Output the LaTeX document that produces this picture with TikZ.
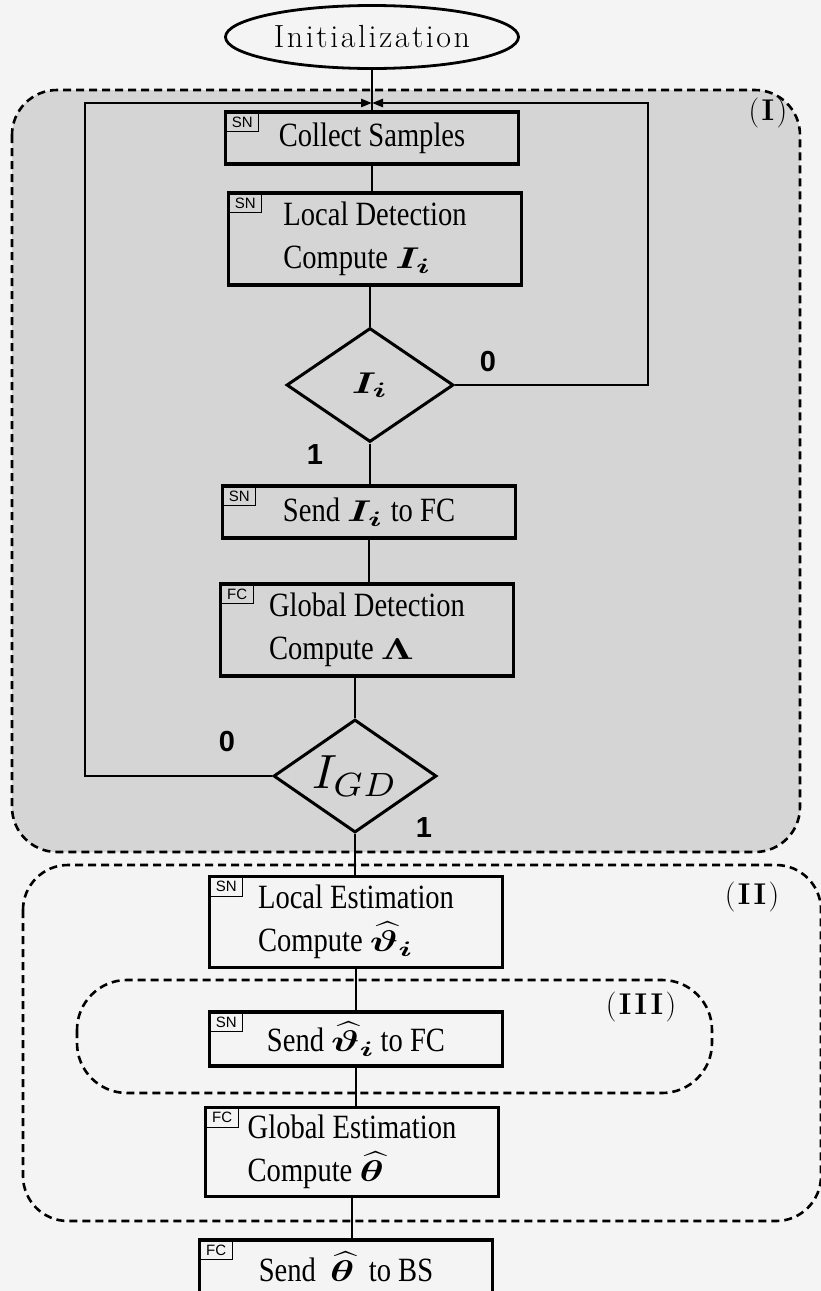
\documentclass[tikz,border=0pt]{standalone}
\usepackage{amsmath,bm}
\usepackage{graphicx}
\usepackage{fontspec}
\usetikzlibrary{shapes.geometric,arrows.meta}
\newfontfamily\tnr{Liberation Serif}[FakeStretch=0.84]
\newfontfamily\lmsp{Latin Modern Roman}[LetterSpace=8]
\newfontfamily\lsans{Liberation Sans}
\definecolor{regI}{HTML}{D5D5D5}
\definecolor{pagebg}{HTML}{F4F4F4}
\newcommand{\mth}[1]{\scalebox{4.1}[3.0]{\fontsize{10}{12}\selectfont$#1$}}
\begin{document}
\begin{tikzpicture}[x=1pt,y=-1pt,
  proc/.style={draw, line width=3.3pt, minimum width=293pt, inner sep=0pt, outer sep=0pt,
    font=\tnr\fontsize{34}{43}\selectfont, align=left},
  tagbox/.style={draw, line width=1.4pt, minimum width=32pt, minimum height=19pt, inner sep=0pt,
    anchor=north west, font=\lsans\fontsize{15}{15}\selectfont},
  dec/.style={draw, diamond, aspect=1.45, line width=3pt, inner sep=0pt,
    font=\tnr\fontsize{34}{40}\selectfont},
  conn/.style={line width=2.6pt},
  region/.style={line width=2.6pt, dash pattern=on 8pt off 5pt, rounded corners=45pt},
  lab/.style={font=\lsans\bfseries\fontsize{29}{30}\selectfont},
  rlab/.style={font=\lmsp\fontsize{30}{32}\selectfont},
  tip/.style={-{Triangle[length=11pt,width=8pt]}}
]
\fill[pagebg] (0,0) rectangle (821,1291);
\useasboundingbox (0,0) rectangle (821,1291);

% regions
\draw[region, fill=regI] (12,90) rectangle (800,852);
\draw[region] (23,865) rectangle (821,1221);
\draw[region, rounded corners=50pt] (77,980) rectangle (712,1093);

% nodes
\node[ellipse, draw, line width=2.8pt, minimum width=293pt, minimum height=63pt, inner sep=0pt,
  font=\lmsp\fontsize{32}{38}\selectfont] (init) at (372,37) {Initialization};
\node[proc, minimum height=52pt] (collect) at (372,138) {Collect Samples};
\node[proc, minimum height=92pt] (localdet) at (375,239) {Local Detection\\Compute \mth{\bm{I}_{\bm{i}}}};
\node[dec, minimum width=167pt, minimum height=114pt] (d1) at (370,385) {\mth{\bm{I}_{\bm{i}}}};
\node[proc, minimum height=52pt] (sendI) at (369,512) {Send \mth{\bm{I}_{\bm{i}}} to FC};
\node[proc, minimum height=92pt] (globdet) at (367,630) {Global Detection\\Compute \mth{\bm{\Lambda}}};
\node[dec, minimum width=163pt, minimum height=113pt] (d2) at (355,776) {\scalebox{4.8}{\fontsize{10}{12}\selectfont$I_{GD}$}};
\node[proc, minimum height=91pt] (locest) at (356,922) {Local Estimation\\Compute \mth{\widehat{\bm{\vartheta}}_{\bm{i}}}};
\node[proc, minimum height=54pt] (sendv) at (356,1039) {Send \mth{\widehat{\bm{\vartheta}}_{\bm{i}}}\,to FC};
\node[proc, minimum height=89pt] (globest) at (352,1152) {Global Estimation\\Compute \mth{\widehat{\bm{\theta}}}};
\node[proc, minimum height=54pt] (sendbs) at (346,1267) {Send \ \mth{\widehat{\bm{\theta}}}\ \ to BS};

% tags
\node[tagbox] (t1) at (collect.north west) {SN};
\node[tagbox] (t2) at (localdet.north west) {SN};
\node[tagbox] (t3) at (sendI.north west) {SN};
\node[tagbox] (t4) at (globdet.north west) {FC};
\node[tagbox] (t5) at (locest.north west) {SN};
\node[tagbox] (t6) at (sendv.north west) {SN};
\node[tagbox] (t7) at (globest.north west) {FC};
\node[tagbox] (t8) at (sendbs.north west) {FC};

% connectors
\draw[conn] (init.south) -- (init.south |- collect.north);
\draw[conn] (collect.south) -- (collect.south |- localdet.north);
\draw[conn] (localdet.south -| d1.north) -- (d1.north);
\draw[conn] (d1.south) -- (d1.south |- sendI.north);
\draw[conn] (sendI.south) -- (sendI.south |- globdet.north);
\draw[conn] (globdet.south -| d2.north) -- (d2.north);
\draw[conn] (d2.south) -- (d2.south |- locest.north);
\draw[conn] (locest.south) -- (locest.south |- sendv.north);
\draw[conn] (sendv.south) -- (sendv.south |- globest.north);
\draw[conn] (globest.south) -- (globest.south |- sendbs.north);

% loops
\coordinate (m) at (372,103);
\coordinate (rc) at (648,103);
\coordinate (lc) at (85,103);
\draw[conn, tip] (d1.east) -| (rc) -- (m);
\draw[conn, tip] (d2.west) -| (lc) -- (m);

% labels
\node[lab] (z1) at (488,362) {0};
\node[lab] (o1) at (315,455) {1};
\node[lab] (z2) at (227,742) {0};
\node[lab] (o2) at (424,828) {1};
\node[rlab] (rI) at (768,113) {(\textbf{I})};
\node[rlab] (rII) at (752,897) {(\textbf{II})};
\node[rlab] (rIII) at (641,1007) {(\textbf{III})};
\end{tikzpicture}
\end{document}
